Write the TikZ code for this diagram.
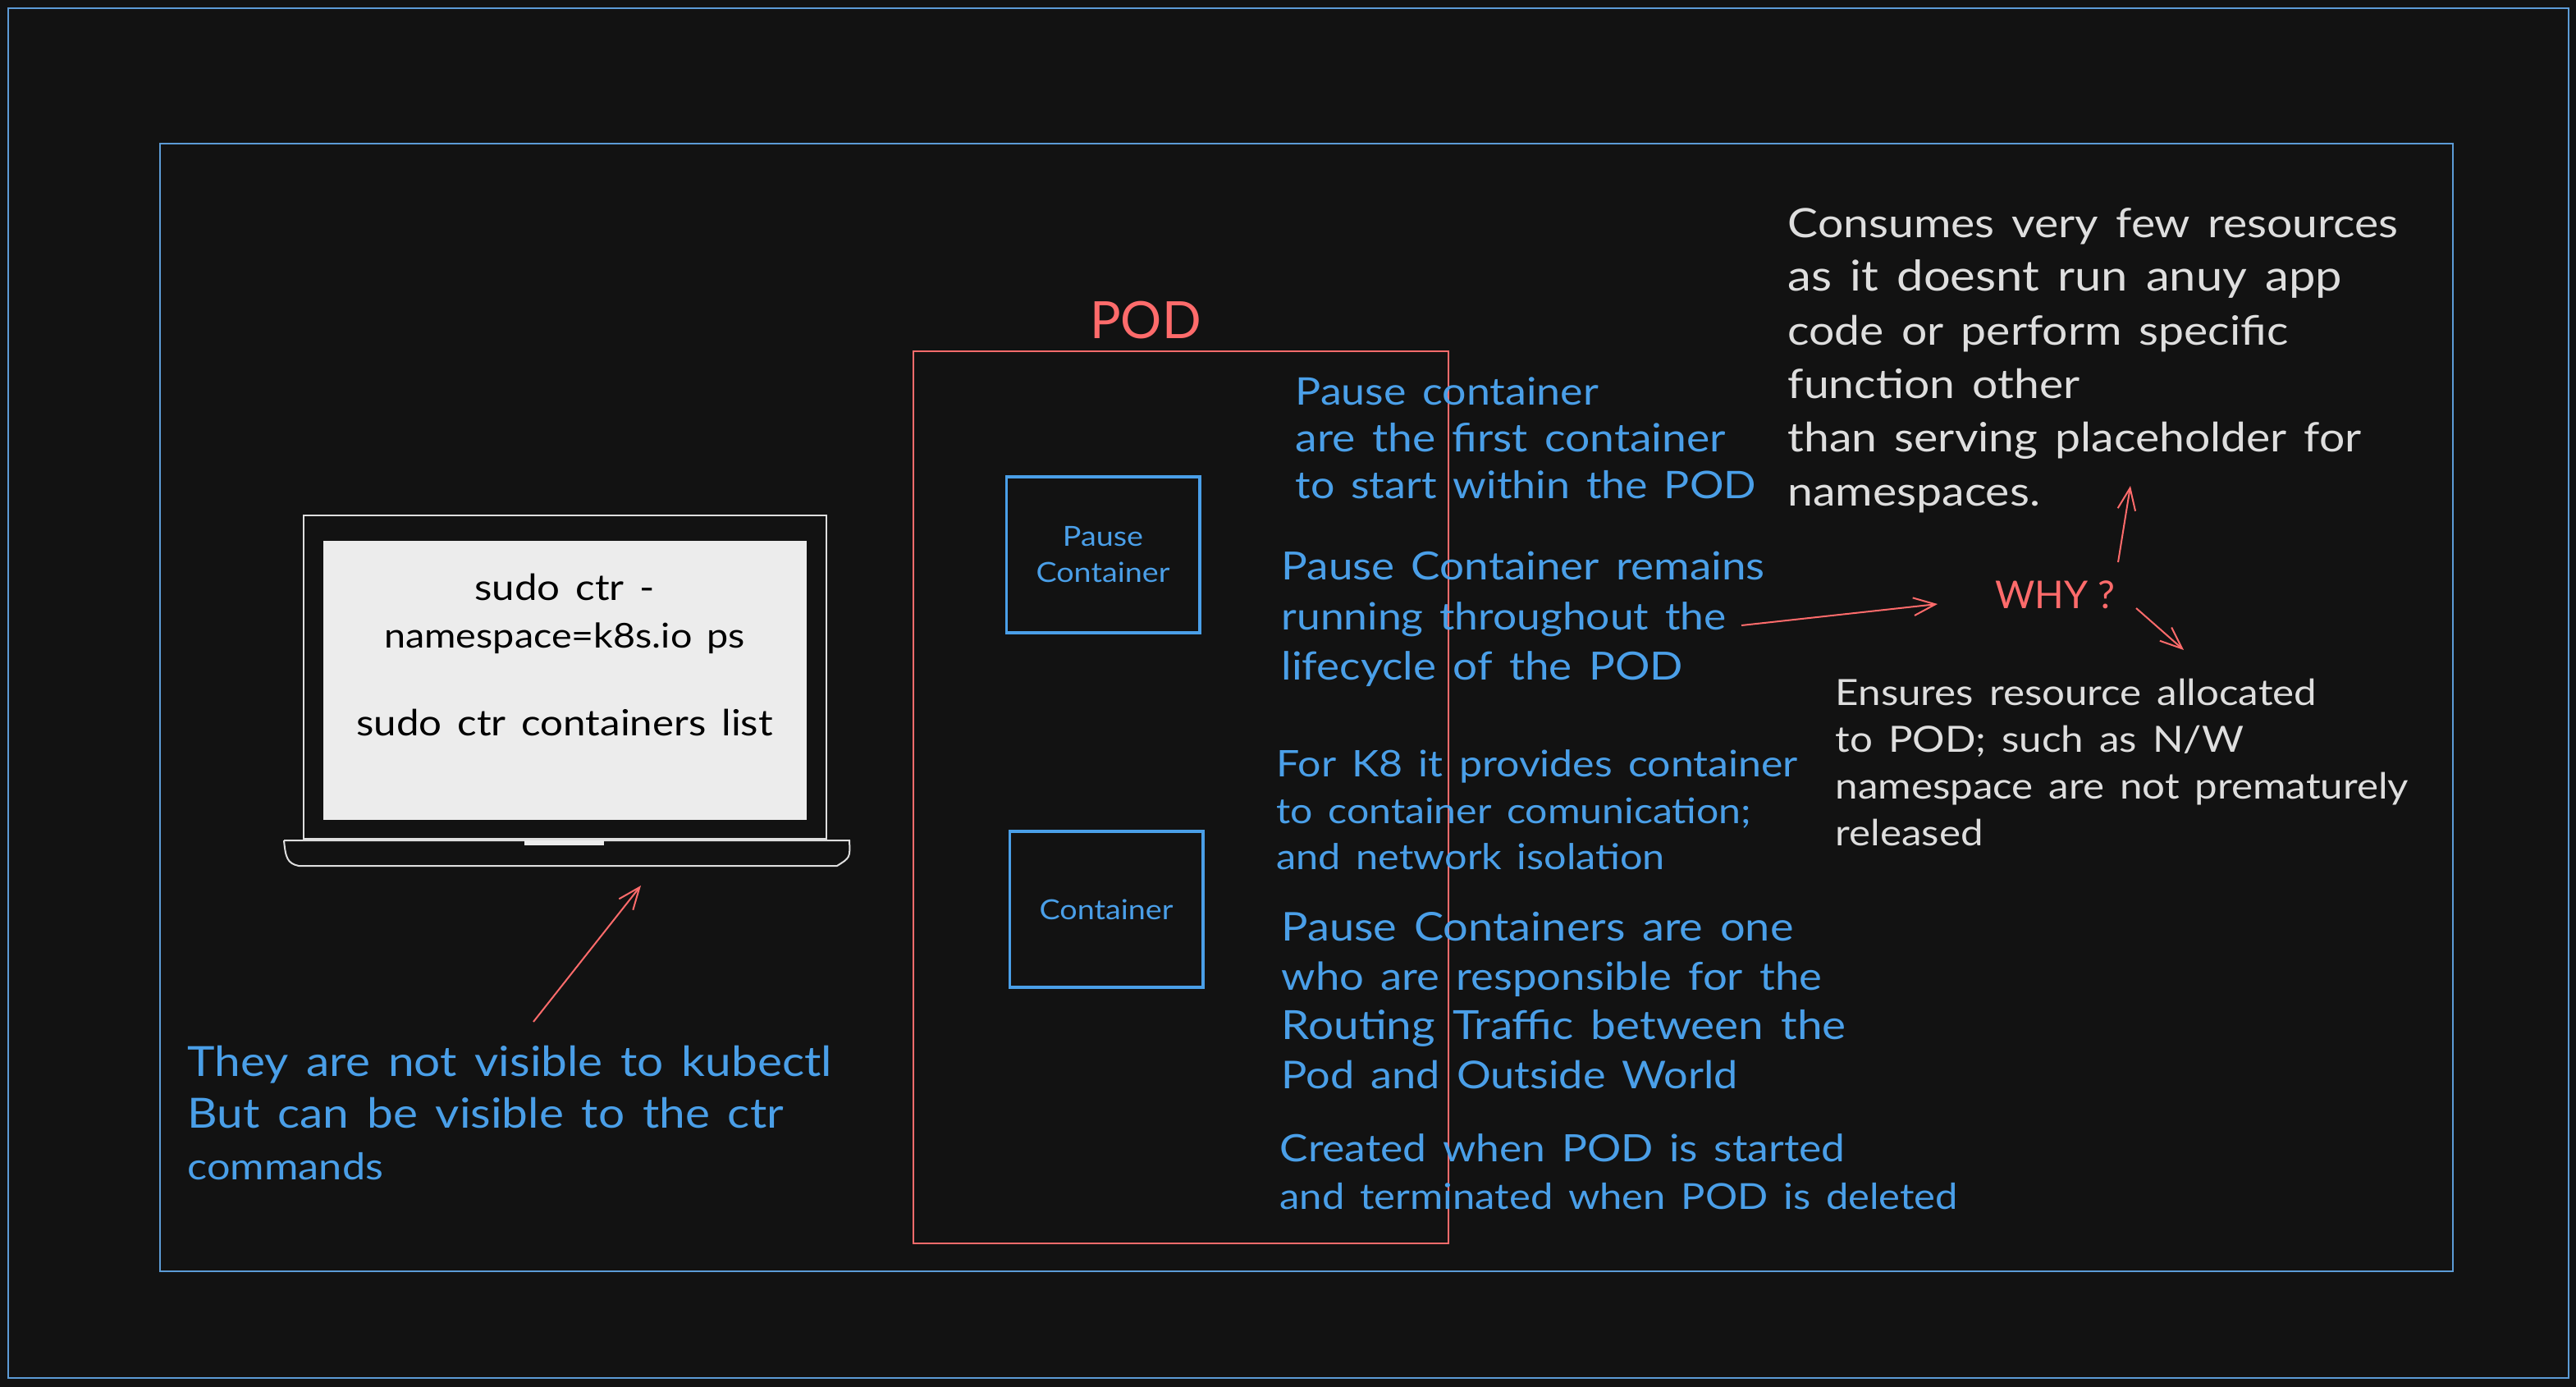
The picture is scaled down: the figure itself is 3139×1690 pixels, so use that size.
\documentclass[tikz,border=0pt]{standalone}
\usepackage{fontspec}
\setmainfont[FakeStretch=1.12,WordSpace=1.5]{Lato}
\newfontfamily\plainf{Lato}
\usetikzlibrary{arrows.meta}
\definecolor{bgc}{HTML}{121212}
\definecolor{bluec}{HTML}{4A9FE8}
\definecolor{framec}{HTML}{5C9BD6}
\definecolor{redc}{HTML}{FF6B6B}
\definecolor{whitec}{HTML}{DEDEDE}
\definecolor{screenc}{HTML}{ECECEC}
\newcommand{\fsz}[2]{\fontsize{#1pt}{#2pt}\selectfont}
\newcommand{\lnsz}[2]{{\fontsize{#1pt}{#1pt}\selectfont #2}}
\tikzset{
  frame/.style={draw=framec,line width=0.6pt},
  podbox/.style={draw=redc,line width=0.6pt},
  ctrbox/.style={draw=bluec,line width=1.1pt,align=center,text=bluec,inner sep=0pt},
  lap/.style={draw=whitec,line width=0.6pt},
  note/.style={align=left,anchor=west,inner sep=0pt},
  bluetxt/.style={note,text=bluec},
  whitetxt/.style={note,text=whitec},
  redtxt/.style={text=redc,inner sep=0pt},
  arr/.style={draw=redc,line width=0.6pt,-{Straight Barb[length=8pt,width=6.5pt,line width=0.6pt]}}
}
\begin{document}
\begin{tikzpicture}[x=0.3pt,y=-0.3pt]
\useasboundingbox (0,0) rectangle (3139,1690);
\fill[bgc] (0,0) rectangle (3139,1690);
\draw[frame] (10,10) rectangle (3130,1679);
\draw[frame] (195,175) rectangle (2989,1549);
\draw[podbox] (1113,428) rectangle (1765,1515);
\node[ctrbox,minimum width=70.6pt,minimum height=57pt,font=\fsz{10.1}{13.2}] (pause) at (1344,676) {Pause\\Container};
\node[ctrbox,minimum width=70.6pt,minimum height=57pt,font=\fsz{10.1}{13.2}] (ctr) at (1348,1108) {Container};
\node[redtxt,font=\plainf\fsz{18.8}{22}] (pod) at (1396,390) {POD};
% laptop
\draw[lap] (370,628) rectangle (1007,1022);
\fill[screenc] (394,659) rectangle (983,999);
\node[text=black,align=center,inner sep=0pt,font=\fsz{13.2}{17.4}] (scr) at (688,798) {sudo ctr -\\\lnsz{12.5}{namespace=k8s.io ps}\\[14.5pt]sudo ctr containers list};
\draw[lap] (346,1024) -- (1035,1024) .. controls (1036,1045) and (1036,1045) .. (1020,1055) -- (364,1055) .. controls (350,1052) and (348,1045) .. (346,1024);
\fill[screenc] (639,1024) rectangle (736,1030);
% notes
\node[bluetxt,font=\fsz{15.2}{18.9}] (kube) at (228,1356) {They are not visible to kubectl\\But can be visible to the ctr\\\lnsz{13.5}{commands}};
\node[bluetxt,font=\fsz{13.9}{17.1}] (first) at (1578,534) {Pause container\\\lnsz{14.3}{are the first container}\\to start within the POD};
\node[bluetxt,font=\fsz{14.2}{18.3}] (remain) at (1561,754) {Pause Container remains\\\lnsz{13.8}{running throughout the}\\lifecycle of the POD};
\node[bluetxt,font=\fsz{13.4}{16.9}] (isol) at (1555,987) {For K8 it provides container\\\lnsz{12.9}{to container comunication;}\\\lnsz{13}{and network isolation}};
\node[bluetxt,font=\fsz{14.5}{18}] (route) at (1561,1219) {Pause Containers are one\\\lnsz{14.1}{who are responsible for the}\\\lnsz{14.7}{Routing Traffic between the}\\\lnsz{14}{Pod and Outside World}};
\node[bluetxt,font=\fsz{13.1}{17.4}] (life) at (1559,1428) {\lnsz{13.8}{Created when POD is started}\\and terminated when POD is deleted};
\node[whitetxt,font=\fsz{14.8}{19.6}] (few) at (2178,439) {Consumes very few resources\\\lnsz{15.5}{as it doesnt run anuy app}\\code or perform specific\\function other\\than serving placeholder for\\namespaces.};
\node[whitetxt,font=\fsz{13.2}{17.1}] (ens) at (2236,929) {Ensures resource allocated\\to POD; such as N/W\\namespace are not prematurely\\released};
\node[redtxt,font=\plainf\fsz{14}{18}] (why) at (2504,725) {WHY ?};
% connectors
\draw[arr] ([shift={(561,8)}]remain.west) -- ([shift={(-143,11)}]why.center);
\draw[arr] ([shift={(77,-40)}]why.center) -- ([shift={(418,153)}]few.west);
\draw[arr] ([shift={(99,16)}]why.center) -- ([shift={(425,-137)}]ens.west);
\draw[arr] ([shift={(422,-111)}]kube.west) -- ([shift={(93,281)}]scr.center);
\end{tikzpicture}
\end{document}
